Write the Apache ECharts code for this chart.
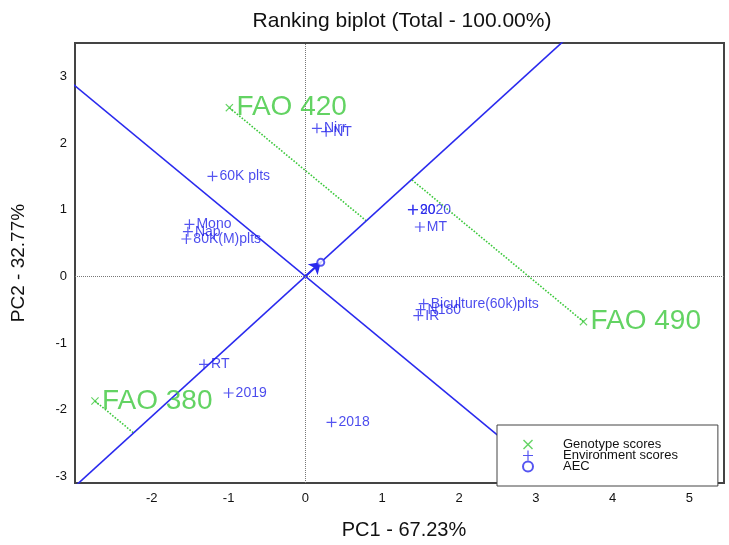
<!DOCTYPE html>
<html>
<head>
<meta charset="utf-8">
<script src="https://cdn.jsdelivr.net/npm/echarts@6/dist/echarts.min.js"></script>
<style>
  html, body { margin: 0; padding: 0; background: #fff; }
  #main { width: 729px; height: 545px; }
</style>
</head>
<body>
<div id="main"></div>
<script>
// genotype scores (PC1, PC2)
const genotypes = ['FAO 420', 'FAO 490', 'FAO 380'];
const genoPC1 = [-0.99, 3.62, -2.74];
const genoPC2 = [2.53, -0.68, -1.87];

// environment scores
const envNames = ['Nirr', 'NT', '60K plts', 'Mono', 'Nap', '80K(M)plts', '2020', '90', 'MT',
  'Biculture(60k)plts', 'N180', 'IR', 'RT', '2019', '2018'];
const envPC1 = [0.15, 0.27, -1.21, -1.51, -1.53, -1.55, 1.40, 1.40, 1.49, 1.54, 1.50, 1.47, -1.32, -1.00, 0.34];
const envPC2 = [2.22, 2.17, 1.50, 0.78, 0.67, 0.56, 1.00, 1.00, 0.74, -0.41, -0.50, -0.59, -1.32, -1.75, -2.19];

// average environment coordinate
const aec = [0.2, 0.21];

const blue = '#2a2aee';
const green = '#3cc83c';
const font = 'Liberation Sans, Arial, sans-serif';

// AEC abscissa and its perpendicular through origin
const k = aec[1] / aec[0];
const aecLine = [[-12, -12 * k], [12, 12 * k]];
const ordLine = [[-12, 12 / k], [12, -12 / k]];

// projection of a genotype onto the AEC abscissa
const project = (x, y) => {
  const t = (x * aec[0] + y * aec[1]) / (aec[0] * aec[0] + aec[1] * aec[1]);
  return [t * aec[0], t * aec[1]];
};

const xPath = 'path://M0,1L1,0L5,4L9,0L10,1L6,5L10,9L9,10L5,6L1,10L0,9L4,5Z';
const plusPath = 'path://M4.4,0H5.6V4.4H10V5.6H5.6V10H4.4V5.6H0V4.4H4.4Z';

const chart = echarts.init(document.getElementById('main'));

chart.setOption({
  animation: false,
  backgroundColor: '#fff',
  title: {
    text: 'Ranking biplot (Total - 100.00%)',
    left: 397, top: 6, textAlign: 'center',
    textStyle: { fontFamily: font, fontSize: 21, fontWeight: 'normal', color: '#111' }
  },
  grid: {
    left: 75, right: 5, top: 43, bottom: 58,
    show: true, borderColor: '#444', borderWidth: 2, backgroundColor: '#fff'
  },
  legend: {
    data: ['Genotype scores', 'Environment scores', 'AEC'],
    orient: 'vertical',
    left: 497, top: 425,
    itemWidth: 60, itemHeight: 10, itemGap: -2,
    padding: [13, 40, 13, 25],
    borderColor: '#444', borderWidth: 1, backgroundColor: '#fff',
    selectedMode: false,
    textStyle: { fontFamily: font, fontSize: 13, color: '#111', lineHeight: 10 }
  },
  xAxis: {
    type: 'value', min: -3, max: 5.45, interval: 1,
    name: 'PC1 - 67.23%', nameLocation: 'middle', nameGap: 37,
    nameTextStyle: { fontFamily: font, fontSize: 20, color: '#111', padding: [0, 0, 0, 9] },
    axisLine: { show: false }, axisTick: { show: false }, splitLine: { show: false },
    axisLabel: {
      fontFamily: font, fontSize: 13, color: '#111', margin: 9,
      showMinLabel: false, showMaxLabel: false
    }
  },
  yAxis: {
    type: 'value', min: -3.1, max: 3.5,
    name: 'PC2 - 32.77%', nameLocation: 'middle', nameGap: 47, nameRotate: 90,
    nameTextStyle: { fontFamily: font, fontSize: 19, color: '#111' },
    axisLine: { show: false }, axisTick: { show: false }, splitLine: { show: false },
    axisLabel: {
      fontFamily: font, fontSize: 13, color: '#111', margin: 8,
      formatter: v => (Math.abs(v - Math.round(v)) < 1e-6 ? String(Math.round(v)) : '')
    }
  },
  series: [
    {
      // zero reference lines
      type: 'line', data: [], silent: true,
      markLine: {
        symbol: 'none', silent: true, label: { show: false },
        lineStyle: { color: '#777', type: 'dotted', width: 1 },
        data: [{ xAxis: 0 }, { yAxis: 0 }]
      }
    },
    {
      type: 'line', data: aecLine, symbol: 'none', clip: true, silent: true,
      lineStyle: { color: blue, width: 1.6 }
    },
    {
      type: 'line', data: ordLine, symbol: 'none', clip: true, silent: true,
      lineStyle: { color: blue, width: 1.6 }
    },
    {
      type: 'lines', coordinateSystem: 'cartesian2d', silent: true,
      lineStyle: { color: green, width: 1.6, type: 'dotted', opacity: 1 },
      data: genotypes.map((g, i) => ({ coords: [[genoPC1[i], genoPC2[i]], project(genoPC1[i], genoPC2[i])] }))
    },
    {
      type: 'lines', coordinateSystem: 'cartesian2d', silent: true,
      symbol: ['none', 'arrow'], symbolSize: 11,
      lineStyle: { color: blue, width: 2, opacity: 1 },
      data: [{ coords: [[0, 0], aec] }]
    },
    {
      name: 'Genotype scores', type: 'scatter', symbol: xPath, symbolSize: 8,
      itemStyle: { color: green },
      label: {
        show: true, position: 'right', distance: 3, formatter: p => p.name,
        fontFamily: font, fontSize: 28, color: green
      },
      data: genotypes.map((g, i) => ({ name: g, value: [genoPC1[i], genoPC2[i]] })),
      z: 5
    },
    {
      name: 'Environment scores', type: 'scatter', symbol: plusPath, symbolSize: 10,
      itemStyle: { color: blue },
      label: {
        show: true, position: 'right', distance: 2, formatter: p => p.name,
        fontFamily: font, fontSize: 14, color: '#1c1ce8'
      },
      data: envNames.map((n, i) => ({ name: n, value: [envPC1[i], envPC2[i]] })),
      z: 5
    },
    {
      name: 'AEC', type: 'scatter', symbol: 'emptyCircle', symbolSize: 7,
      itemStyle: { color: blue, borderColor: blue, borderWidth: 1.5 },
      data: [aec], z: 6
    }
  ]
});
</script>
</body>
</html>
